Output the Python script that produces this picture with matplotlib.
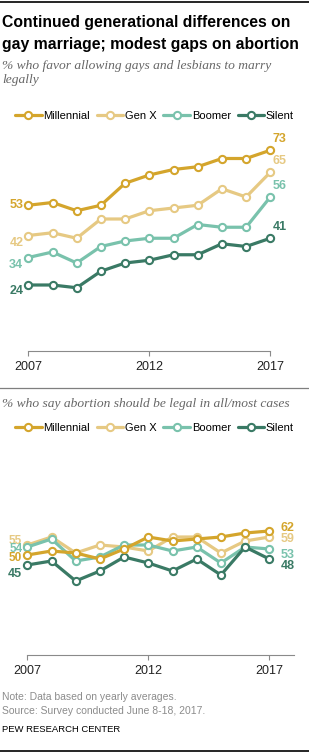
import matplotlib
matplotlib.use("Agg")
import matplotlib.pyplot as plt
from matplotlib.lines import Line2D
import numpy as np

W, H = 309, 752

years = list(range(2007, 2018))
generations = ["Millennial", "Gen X", "Boomer", "Silent"]
colors = {"Millennial": "#d4a52c", "Gen X": "#e6c983", "Boomer": "#79c2ac", "Silent": "#3a7a65"}

# % favor same-sex marriage
marriage_millennial = [53, 54, 51, 53, 61, 64, 66, 67, 70, 70, 73]
marriage_genx = [42, 43, 41, 48, 48, 51, 52, 53, 59, 56, 65]
marriage_boomer = [34, 36, 32, 38, 40, 41, 41, 46, 45, 45, 56]
marriage_silent = [24, 24, 23, 29, 32, 33, 35, 35, 39, 38, 41]

# % abortion legal in all/most cases
abortion_millennial = [50, 52, 51, 48, 53, 59, 57, 58, 59, 61, 62]
abortion_genx = [55, 59, 51, 55, 54, 52, 59, 59, 51, 57, 59]
abortion_boomer = [54, 58, 47, 49, 55, 55, 52, 54, 46, 54, 53]
abortion_silent = [45, 47, 37, 42, 49, 46, 42, 48, 40, 54, 48]

marriage = {"Millennial": marriage_millennial, "Gen X": marriage_genx,
            "Boomer": marriage_boomer, "Silent": marriage_silent}
abortion = {"Millennial": abortion_millennial, "Gen X": abortion_genx,
            "Boomer": abortion_boomer, "Silent": abortion_silent}

SANS = ["Liberation Sans", "DejaVu Sans"]
TITLE = ["Liberation Sans Narrow", "Liberation Sans", "DejaVu Sans"]
SERIF = ["Liberation Serif", "DejaVu Serif"]

fig = plt.figure(figsize=(W / 100, H / 100), dpi=100)


def fy(y):
    return 1 - y / H


def px_axes(left, top, width, height):
    return fig.add_axes([left / W, 1 - (top + height) / H, width / W, height / H])


def line_style(name):
    return dict(color=colors[name], lw=2.3, marker="o", ms=5.2, mfc="white",
                mec=colors[name], mew=1.5, solid_capstyle="round", clip_on=False)


def style_axes(ax, ymax, right_end):
    ax.set_xlim(2007, 2018)
    ax.set_ylim(0, ymax)
    for s in ["top", "left", "right"]:
        ax.spines[s].set_visible(False)
    ax.spines["bottom"].set_color("#8a8a8a")
    ax.spines["bottom"].set_linewidth(0.8)
    ax.spines["bottom"].set_bounds(2007, right_end)
    ax.set_yticks([])
    ax.set_xticks([2007, 2012, 2017])
    ax.tick_params(axis="x", length=3.5, width=0.8, color="#8a8a8a", pad=4,
                   labelsize=9, labelcolor="#222222")
    for t in ax.get_xticklabels():
        t.set_family(SANS)
    ax.patch.set_alpha(0)


def legend_at(y):
    handles = [Line2D([], [], **line_style(g)) for g in generations]
    fig.legend(handles, generations, loc="center", bbox_to_anchor=(0.5, fy(y)),
               ncol=4, frameon=False, handlelength=2.4, handletextpad=0.15,
               columnspacing=0.6, borderaxespad=0,
               prop={"family": SANS, "size": 8})


# frame lines
fig.add_artist(Line2D([0, 1], [fy(1.5), fy(1.5)], color="black", lw=1.2))
fig.add_artist(Line2D([0, 1], [fy(388), fy(388)], color="#7f7f7f", lw=0.9))
fig.add_artist(Line2D([0, 1], [fy(750.5), fy(750.5)], color="black", lw=1.2))

fig.text(2 / W, fy(22), "Continued generational differences on", ha="left", va="center",
         family=TITLE, weight="bold", size=11.3, color="black")
fig.text(2 / W, fy(44), "gay marriage; modest gaps on abortion", ha="left", va="center",
         family=TITLE, weight="bold", size=11.3, color="black")
fig.text(2 / W, fy(66), "% who favor allowing gays and lesbians to marry", ha="left",
         va="center", family=SERIF, style="italic", size=9.7, color="#666666")
fig.text(2 / W, fy(80.5), "legally", ha="left", va="center", family=SERIF,
         style="italic", size=9.7, color="#666666")
legend_at(116)

# top chart: same-sex marriage
ax1 = px_axes(28.3, 131, 266.2, 220)
style_axes(ax1, 80, 2017)
for g in ["Millennial", "Gen X", "Boomer", "Silent"]:
    ax1.plot(years, marriage[g], **line_style(g))
left_off = {"Millennial": 0, "Gen X": -8, "Boomer": -7, "Silent": -6}
for g in generations:
    v = marriage[g]
    ax1.annotate(str(v[0]), (years[0], v[0]), xytext=(-5, left_off[g]),
                 textcoords="offset pixels", ha="right", va="center",
                 color=colors[g], size=9, weight="bold", family=SANS)
    ax1.annotate(str(v[-1]), (years[-1], v[-1]), xytext=(2, 11),
                 textcoords="offset pixels", ha="left", va="center",
                 color=colors[g], size=9, weight="bold", family=SANS)

# bottom chart: abortion
fig.text(2 / W, fy(404), "% who say abortion should be legal in all/most cases", ha="left",
         va="center", family=SERIF, style="italic", size=9.7, color="#666666")
legend_at(428)

ax2 = px_axes(27.3, 455, 266.2, 200)
style_axes(ax2, 100, 2018)
for g in ["Gen X", "Boomer", "Silent", "Millennial"]:
    ax2.plot(years, abortion[g], **line_style(g))
# the three labels at 2007 sit tightly stacked, as in the original
left_off2 = {"Millennial": -3, "Gen X": 4.5, "Boomer": -1.5, "Silent": -9}
left_size2 = {"Millennial": 8.5, "Gen X": 8.5, "Boomer": 8.5, "Silent": 9}
right_off2 = {"Millennial": 3, "Gen X": -2, "Boomer": -6, "Silent": -7}
for g in generations:
    v = abortion[g]
    ax2.annotate(str(v[0]), (years[0], v[0]), xytext=(-5, left_off2[g]),
                 textcoords="offset pixels", ha="right", va="center",
                 color=colors[g], size=left_size2[g], weight="bold", family=SANS)
    ax2.annotate(str(v[-1]), (years[-1], v[-1]), xytext=(11, right_off2[g]),
                 textcoords="offset pixels", ha="left", va="center",
                 color=colors[g], size=9, weight="bold", family=SANS)

fig.text(2 / W, fy(697), "Note: Data based on yearly averages.", ha="left", va="center",
         family=SANS, size=7.5, color="#8c8c8c")
fig.text(2 / W, fy(711), "Source: Survey conducted June 8-18, 2017.", ha="left",
         va="center", family=SANS, size=7.5, color="#8c8c8c")
fig.text(2 / W, fy(730), "PEW RESEARCH CENTER", ha="left", va="center",
         family=SANS, size=6.8, color="black")

fig.savefig("out.png", dpi=100)
